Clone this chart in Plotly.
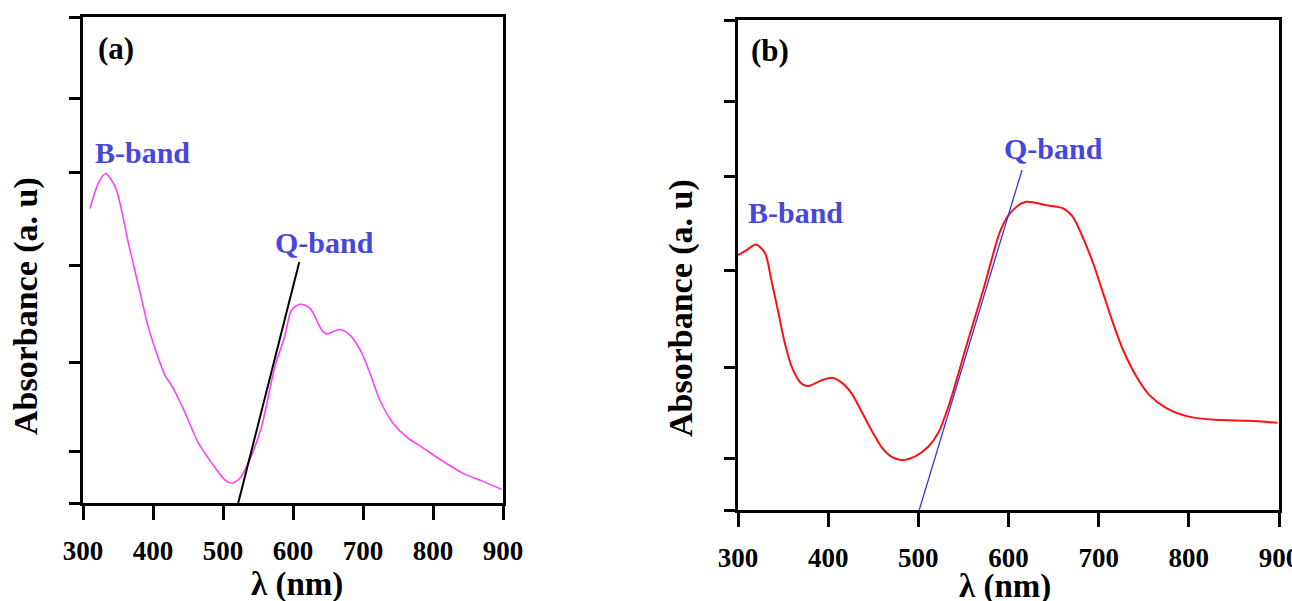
import plotly.graph_objects as go

# ---- spectrum (a): wavelength (nm) and absorbance (a.u.) ----
wl_a = [310, 322, 332, 346, 355, 365, 374, 384, 393, 405, 417, 429, 446, 465,
        484, 503, 512, 524, 536, 555, 574, 588, 598, 610, 624, 641, 648, 667,
        681, 696, 710, 724, 743, 762, 786, 815, 843, 872, 898]
abs_a = [0.606, 0.658, 0.678, 0.651, 0.603, 0.534, 0.479, 0.418, 0.363, 0.309,
         0.263, 0.236, 0.185, 0.123, 0.082, 0.047, 0.041, 0.051, 0.082, 0.157,
         0.280, 0.342, 0.397, 0.409, 0.401, 0.356, 0.348, 0.357, 0.346, 0.315,
         0.267, 0.212, 0.164, 0.136, 0.113, 0.085, 0.061, 0.044, 0.028]

# ---- spectrum (b) ----
wl_b = [300, 310, 320, 330, 337, 345, 352, 361, 371, 378, 393, 404, 415, 426,
        437, 448, 459, 470, 481, 496, 511, 522, 535, 553, 572, 590, 599, 609,
        620, 642, 660, 671, 682, 694, 705, 716, 727, 742, 756, 775, 801, 830,
        867, 898]
abs_b = [0.520, 0.531, 0.542, 0.524, 0.469, 0.401, 0.340, 0.286, 0.257, 0.253,
         0.265, 0.270, 0.260, 0.238, 0.201, 0.163, 0.129, 0.109, 0.102, 0.109,
         0.129, 0.157, 0.220, 0.333, 0.449, 0.565, 0.599, 0.619, 0.629, 0.622,
         0.616, 0.599, 0.558, 0.503, 0.442, 0.381, 0.327, 0.272, 0.235, 0.208,
         0.190, 0.184, 0.182, 0.178]

# onset tangent lines for the Q-band (two end points each)
tan_a_x = [520, 609]
tan_a_y = [-0.010, 0.496]
tan_b_x = [501, 615]
tan_b_y = [0.0, 0.694]

x_ticks = [300, 400, 500, 600, 700, 800, 900]
y_ticks = [0.0, 0.105, 0.290, 0.488, 0.681, 0.833, 1.0]

SERIF = "Liberation Serif, Times New Roman, serif"
LABEL_BLUE = "#4747dc"

fig = go.Figure()

fig.add_trace(go.Scatter(x=wl_a, y=abs_a, mode="lines",
                         line=dict(color="#ff40ff", width=1.6, shape="spline",
                                   smoothing=0.8),
                         xaxis="x", yaxis="y", showlegend=False))
fig.add_trace(go.Scatter(x=tan_a_x, y=tan_a_y, mode="lines",
                         line=dict(color="black", width=2), cliponaxis=False,
                         xaxis="x", yaxis="y", showlegend=False))

fig.add_trace(go.Scatter(x=wl_b, y=abs_b, mode="lines",
                         line=dict(color="#ff1010", width=2, shape="spline",
                                   smoothing=0.8),
                         xaxis="x2", yaxis="y2", showlegend=False))
fig.add_trace(go.Scatter(x=tan_b_x, y=tan_b_y, mode="lines",
                         line=dict(color="#3535ee", width=1.3), cliponaxis=False,
                         xaxis="x2", yaxis="y2", showlegend=False))

W, H = 1292, 601


def px_x(p):
    return p / W


def px_y(p):
    return 1 - p / H


xcommon = dict(range=[300, 900], tickvals=x_ticks, ticks="outside", ticklen=14,
               tickwidth=2.5, tickcolor="black", showline=True, linewidth=3,
               linecolor="black", mirror=True, showgrid=False, zeroline=False,
               ticklabelstandoff=8, automargin=False, ticklabeloverflow="allow",
               tickfont=dict(family=SERIF, size=27, color="black", weight="bold"))
ycommon = dict(range=[0, 1], tickvals=y_ticks, showticklabels=False,
               ticks="outside", ticklen=11, tickwidth=2.5, tickcolor="black",
               showline=True, linewidth=3, linecolor="black", mirror=True,
               showgrid=False, zeroline=False, automargin=False)

fig.update_layout(
    width=W, height=H,
    margin=dict(l=0, r=0, t=0, b=0, autoexpand=False),
    paper_bgcolor="white", plot_bgcolor="white",
    xaxis=dict(domain=[px_x(83), px_x(503)], anchor="y", **xcommon),
    yaxis=dict(domain=[px_y(503), px_y(17)], anchor="x", **ycommon),
    xaxis2=dict(domain=[px_x(738), px_x(1279)], anchor="y2", **xcommon),
    yaxis2=dict(domain=[px_y(510), px_y(20)], anchor="x2", **ycommon),
)

bold = dict(family=SERIF, weight="bold")


def note(text, x, y, size, color="black", angle=0):
    fig.add_annotation(text=text, x=px_x(x), y=px_y(y), xref="paper", yref="paper",
                       showarrow=False, textangle=angle, xanchor="center",
                       yanchor="middle", font=dict(size=size, color=color, **bold))


# panel (a)
note("(a)", 116, 48, 31)
note("B-band", 142, 152, 30, LABEL_BLUE)
note("Q-band", 324, 243, 30, LABEL_BLUE)
note("Absorbance (a. u)", 26, 306, 34, angle=-90)
note("λ (nm)", 297, 584, 33)

# panel (b)
note("(b)", 770, 50, 31)
note("B-band", 795, 212, 30, LABEL_BLUE)
note("Q-band", 1053, 148, 30, LABEL_BLUE)
note("Absorbance (a. u)", 681, 308, 34, angle=-90)
note("λ (nm)", 1005, 586, 33)

fig.write_html("out.html")
